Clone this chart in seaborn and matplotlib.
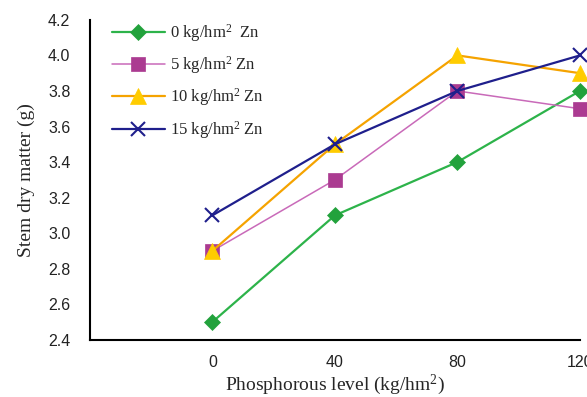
import matplotlib
matplotlib.use("Agg")
import matplotlib.pyplot as plt
import seaborn as sns
import pandas as pd

# data
phosphorus = [0, 40, 80, 120]
zn_labels = ['0 kg/hm$^{2}$  Zn', '5 kg/hm$^{2}$ Zn', '10 kg/hm$^{2}$ Zn', '15 kg/hm$^{2}$ Zn']
zn0 = [2.5, 3.1, 3.4, 3.8]
zn5 = [2.9, 3.3, 3.8, 3.7]
zn10 = [2.9, 3.5, 4.0, 3.9]
zn15 = [3.1, 3.5, 3.8, 4.0]

series = [zn0, zn5, zn10, zn15]

sns.set_theme(style='white')
plt.rcParams['font.family'] = ['Liberation Sans', 'DejaVu Sans']
plt.rcParams['mathtext.fontset'] = 'custom'
plt.rcParams['mathtext.rm'] = 'Liberation Serif'
plt.rcParams['mathtext.it'] = 'Liberation Serif:italic'

styles = [
    {'color': '#2db34a', 'mfc': '#22a23c', 'marker': 'D', 'ms': 8, 'lw': 1.6},
    {'color': '#c96ab9', 'mfc': '#ab3b91', 'marker': 's', 'ms': 10, 'lw': 1.1},
    {'color': '#f5a300', 'mfc': '#ffcc00', 'marker': '^', 'ms': 11, 'lw': 1.6},
    {'color': '#1f1f8c', 'mfc': '#1f1f8c', 'marker': 'x', 'ms': 10, 'lw': 1.6},
]

fig, ax = plt.subplots(figsize=(5.87, 3.97), dpi=100)
fig.subplots_adjust(left=0.153, right=0.988, top=0.950, bottom=0.144)

for vals, lab, st in zip(series, zn_labels, styles):
    df = pd.DataFrame({'P': phosphorus, 'DM': vals})
    sns.lineplot(data=df, x='P', y='DM', ax=ax, color=st['color'], lw=st['lw'],
                 marker=st['marker'], markersize=st['ms'],
                 markerfacecolor=st['mfc'], markeredgecolor=st['mfc'],
                 markeredgewidth=1.5 if st['marker'] == 'x' else 0.5,
                 label=lab, clip_on=False, zorder=3)

ax.set_xlim(-40, 120)
ax.set_ylim(2.4, 4.2)
ax.set_xticks(phosphorus)
ax.set_yticks([2.4 + 0.2 * i for i in range(10)])
ax.set_yticklabels([f'{2.4 + 0.2 * i:.1f}' for i in range(10)])

for s in ['top', 'right']:
    ax.spines[s].set_visible(False)
for s in ['left', 'bottom']:
    ax.spines[s].set_color('black')
    ax.spines[s].set_linewidth(1.5)

ax.tick_params(axis='both', direction='in', length=5, width=1.5, color='black',
               labelsize=11.5, labelcolor='#222222')
ax.tick_params(axis='x', pad=11)
ax.tick_params(axis='y', pad=14)

ax.set_xlabel('Phosphorous level (kg/hm$^{2}$)', family='Liberation Serif', fontsize=14, labelpad=2)
ax.set_ylabel('Stem dry matter (g)', family='Liberation Serif', fontsize=14, labelpad=9)

leg = ax.legend(loc='upper left', bbox_to_anchor=(0.014, 1.04), frameon=False,
                handlelength=3.2, labelspacing=0.62, handletextpad=0.3,
                prop={'family': 'Liberation Serif', 'size': 12})

plt.savefig('out.png', dpi=100)
